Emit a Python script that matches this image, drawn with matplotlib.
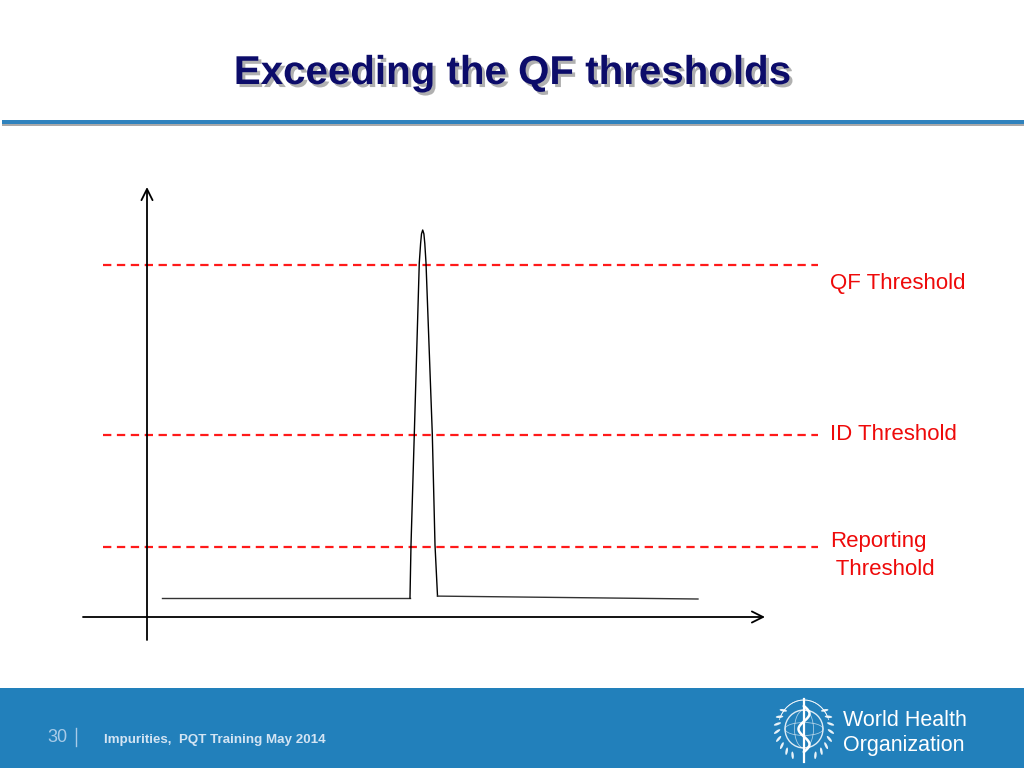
import numpy as np
import matplotlib.pyplot as plt
import matplotlib.patheffects as pe
from matplotlib.patches import Rectangle, Circle, Ellipse, Arc

plt.rcParams['lines.scale_dashes'] = False

# chromatogram trace: retention time (min) vs response (% of peak height)
left_base_t = [0.25, 4.383]
left_base_r = [4.9, 4.9]
peak_t = [4.383, 4.40, 4.455, 4.538, 4.560, 4.575, 4.595, 4.615, 4.630, 4.65, 4.755, 4.80, 4.842]
peak_r = [4.9, 18.6, 47.3, 91.5, 96.5, 99.0, 100.0, 99.0, 96.5, 91.5, 47.3, 18.6, 5.4]
right_base_t = [4.842, 9.183]
right_base_r = [5.4, 4.65]

# threshold levels (same units)
threshold_names = ['QF Threshold', 'ID Threshold', 'Reporting\n Threshold']
threshold_levels = [91.0, 47.0, 18.1]

title = 'Exceeding the QF thresholds'
footer_page = '30'
footer_text = 'Impurities,  PQT Training May 2014'

W, H = 1024, 768
fig = plt.figure(figsize=(W / 100, H / 100), dpi=100)

# background layer in pixel units for the slide decoration
bg = fig.add_axes([0, 0, 1, 1])
bg.set_xlim(0, W)
bg.set_ylim(H, 0)
bg.axis('off')
bg.add_patch(Rectangle((2, 120), W, 4, color='#2f82bd', lw=0))
bg.add_patch(Rectangle((2, 124), W, 1.8, color='#a9a9a9', lw=0))
bg.add_patch(Rectangle((0, 688), W, 80, color='#2280bb', lw=0))

# title with drop shadow
bg.text(512, 73, title, ha='center', va='center', fontsize=29, fontweight='bold',
        family='Liberation Sans', color='#0c0c6a',
        path_effects=[pe.withSimplePatchShadow(offset=(2.2, -2.2), shadow_rgbFace='#8f8f8f', alpha=0.7)])

# footer
bg.text(47, 737, footer_page, ha='left', va='center', fontsize=13, color='#a8cbe8',
        family='Liberation Sans')
bg.plot([76, 76], [728, 746], color='#a8cbe8', lw=1.0)
bg.text(104, 740, footer_text, ha='left', va='center', fontsize=9.6, fontweight='bold',
        family='Liberation Sans', color='#d3e4f3')

# simplified WHO emblem
cx, cy = 804, 729
bg.add_patch(Circle((cx, cy), 19, fill=False, ec='white', lw=1.0, alpha=0.85))
bg.add_patch(Ellipse((cx, cy), 19, 38, fill=False, ec='white', lw=0.6, alpha=0.6))
bg.add_patch(Ellipse((cx, cy), 38, 13, fill=False, ec='white', lw=0.6, alpha=0.6))
bg.add_patch(Arc((cx, cy), 52, 58, theta1=200, theta2=330, color='white', lw=0.6, alpha=0.8))
bg.add_patch(Arc((cx, cy), 52, 58, theta1=210, theta2=340, color='white', lw=0.6, alpha=0.8,
                 transform=bg.transData))
for side in (-1, 1):
    for k in range(8):
        a = np.deg2rad(140 + k * 15)
        ex = cx + side * 27 * np.cos(np.pi - a)
        ey = cy - 29 * np.sin(a)
        ang = side * (np.rad2deg(a) - 60)
        bg.add_patch(Ellipse((ex, ey), 2.4, 7.5, angle=ang, color='white', lw=0, alpha=0.9))
bg.plot([cx, cx], [699, 762], color='white', lw=1.6)
ys = np.linspace(706, 752, 60)
bg.plot(cx + 5.5 * np.sin((ys - 706) / 46 * 3 * np.pi), ys, color='white', lw=1.8)
bg.text(843, 720, 'World Health', ha='left', va='center', fontsize=15.5, family='Liberation Sans', color='white')
bg.text(843, 745, 'Organization', ha='left', va='center', fontsize=15.5, family='Liberation Sans', color='white')

# chart axes: origin at pixel (147, 617), 60 px per minute, 3.87 px per unit
x0, y0, sx, sy = 147, 617, 60.0, 3.87
L, R, T, B = 60, 840, 150, 680
ax = fig.add_axes([L / W, (H - B) / H, (R - L) / W, (B - T) / H])
ax.set_xlim((L - x0) / sx, (R - x0) / sx)
ax.set_ylim((y0 - B) / sy, (y0 - T) / sy)
ax.axis('off')
ax.patch.set_alpha(0)

# threshold lines and labels
label_dy = [-19, 1, -8.5]
for name, lvl, dy in zip(threshold_names, threshold_levels, label_dy):
    ax.plot([-0.733, 11.18], [lvl, lvl], color='#ff1a1a', lw=1.6, dashes=(6.0, 4.0))
    ax.text(11.38, lvl + dy / sy, name, ha='left', va='center', fontsize=16,
            family='Liberation Sans', color='#ee0a0a', clip_on=False, linespacing=1.4)

# axes arrows
ax.annotate('', xy=(0, 111.1), xytext=(0, -5.94),
            arrowprops=dict(arrowstyle='->', lw=1.3, color='black', mutation_scale=20, shrinkA=0, shrinkB=0))
ax.annotate('', xy=(10.3, 0), xytext=(-1.067, 0),
            arrowprops=dict(arrowstyle='->', lw=1.3, color='black', mutation_scale=20, shrinkA=0, shrinkB=0))

# chromatogram
ax.plot(left_base_t, left_base_r, color='#333333', lw=1.0)
ax.plot(peak_t, peak_r, color='black', lw=1.0)
ax.plot(right_base_t, right_base_r, color='#333333', lw=1.0)

fig.savefig('out.png', dpi=100)
